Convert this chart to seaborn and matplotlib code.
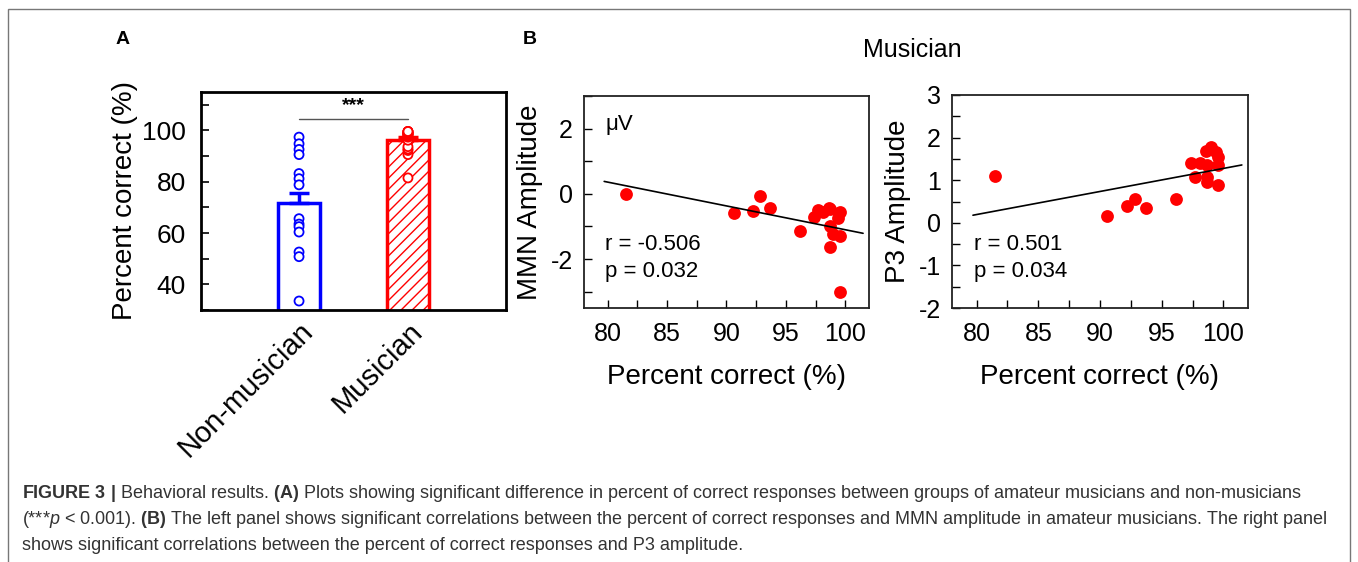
import numpy as np
import pandas as pd
import seaborn as sns
import matplotlib.pyplot as plt
from matplotlib import font_manager
from matplotlib.ticker import MultipleLocator, FixedLocator
from matplotlib.patches import Rectangle
from matplotlib.collections import PathCollection

# Panel A: percent correct per subject
groups = ['Non-musician', 'Musician']
group_colors = ['#0000ff', '#ff0000']
nonmus_pct = [97.4, 94.8, 92.6, 90.6, 83.2, 81.2, 78.8, 65.6, 63.5, 62.5,
              60.4, 52.6, 50.8, 33.5]
mus_pct = [81.5, 90.6, 92.2, 92.8, 93.7, 96.2, 97.4, 97.7, 98.1, 98.6,
           98.7, 98.7, 98.7, 99.0, 99.4, 99.6, 99.6, 99.6]
group_mean = [71.6, 96.4]
group_se = [4.1, 0.9]

# Panel B: musicians only, same subjects as mus_pct
mmn_amp = [0.0, -0.58, -0.53, -0.06, -0.43, -1.13, -0.72, -0.50, -0.55, -0.42,
           -1.00, -1.64, -0.45, -1.23, -0.75, -0.57, -1.29, -3.00]
p3_amp = [1.10, 0.16, 0.39, 0.55, 0.34, 0.57, 1.40, 1.08, 1.40, 1.68,
          1.36, 1.08, 0.96, 1.78, 1.66, 1.55, 1.36, 0.88]

caption_lines = [
    r"$\bf{FIGURE\ 3\ |}$ Behavioral results. $\bf{(A)}$ Plots showing significant difference in percent of correct responses between groups of amateur musicians and non-musicians",
    r"(***$\it{p}$ < 0.001). $\bf{(B)}$ The left panel shows significant correlations between the percent of correct responses and MMN amplitude in amateur musicians. The right panel",
    r"shows significant correlations between the percent of correct responses and P3 amplitude.",
]

sns.set_style('ticks')
plt.rcParams['font.family'] = ['Liberation Sans', 'DejaVu Sans']
plt.rcParams['mathtext.fontset'] = 'custom'
plt.rcParams['mathtext.rm'] = 'Liberation Sans'
plt.rcParams['mathtext.bf'] = 'Liberation Sans:bold'
plt.rcParams['mathtext.it'] = 'Liberation Sans:italic'
plt.rcParams['xtick.direction'] = 'in'
plt.rcParams['ytick.direction'] = 'in'
plt.rcParams['hatch.linewidth'] = 1.0
plt.rcParams['axes.unicode_minus'] = False
for key in ['text.color', 'axes.labelcolor', 'xtick.color', 'ytick.color']:
    plt.rcParams[key] = 'black'

names = {f.name for f in font_manager.fontManager.ttflist}
cap_font = 'Liberation Sans Narrow' if 'Liberation Sans Narrow' in names else 'Liberation Sans'
cap_size = 15.5 if cap_font == 'Liberation Sans Narrow' else 13.0

W, H = 1358, 562
fig = plt.figure(figsize=(W / 100, H / 100), dpi=100)

def px_axes(left, top, right, bottom):
    return fig.add_axes([left / W, 1 - bottom / H, (right - left) / W, (bottom - top) / H])

# ---------------- Panel A ----------------
axA = px_axes(201, 92, 506, 310)
df_mean = pd.DataFrame({'group': groups, 'mean': group_mean})
df_a = pd.DataFrame({'group': ['Non-musician'] * len(nonmus_pct) + ['Musician'] * len(mus_pct),
                     'pct': nonmus_pct + mus_pct})

sns.barplot(data=df_mean, x='group', y='mean', hue='group', order=groups, hue_order=groups,
            palette=group_colors, fill=False, width=0.385, linewidth=2.5, ax=axA, legend=False)
for p in axA.patches:
    idx = int(round(p.get_x() + p.get_width() / 2))
    p.set_facecolor('white')
    if groups[idx] == 'Musician':
        p.set_hatch('///')
    p.set_edgecolor(group_colors[idx])

sns.stripplot(data=df_a, x='group', y='pct', hue='group', order=groups, hue_order=groups,
              palette=group_colors, jitter=False, size=6.5, ax=axA, legend=False, zorder=3)
for coll in axA.collections:
    if isinstance(coll, PathCollection):
        fc = coll.get_facecolor()
        coll.set_edgecolor(fc)
        coll.set_facecolor('white')
        coll.set_linewidth(1.3)

for i in range(len(groups)):
    axA.errorbar(i, group_mean[i], yerr=[[0], [group_se[i]]], fmt='none',
                 ecolor=group_colors[i], elinewidth=2.5, capsize=7, capthick=2.5, zorder=2)

axA.plot([0, 1], [104.6, 104.6], color='#555555', lw=1)
axA.text(0.5, 106.3, '***', ha='center', va='bottom', fontsize=14, fontweight='bold')

axA.set_xlim(-0.9, 1.9)
axA.set_ylim(30, 115)
axA.yaxis.set_major_locator(FixedLocator([40, 60, 80, 100]))
axA.yaxis.set_minor_locator(MultipleLocator(10))
axA.tick_params(axis='y', which='both', labelsize=19, length=6, width=1.2, pad=11)
axA.tick_params(axis='x', length=0, labelsize=21, pad=5)
plt.setp(axA.get_xticklabels(), rotation=45, ha='right', va='top', rotation_mode='anchor')
axA.set_xlabel('')
axA.set_ylabel('Percent correct (%)', fontsize=20)
axA.yaxis.set_label_coords(-0.205, 0.5)
for s in axA.spines.values():
    s.set_visible(True)
    s.set_linewidth(2)
    s.set_color('black')

# ---------------- Panel B ----------------
def corr_panel(ax, y, ylabel, ylim, stats, label_x):
    ax.set_xlim(79.7, 101.5)
    sns.regplot(x=np.array(mus_pct), y=np.array(y), ci=None, truncate=False, ax=ax,
                scatter_kws=dict(s=85, color='#ff0000', linewidths=0, zorder=2, alpha=1),
                line_kws=dict(color='black', lw=1.2, zorder=4))
    ax.set_xlim(78, 102)
    ax.set_ylim(*ylim)
    ax.xaxis.set_major_locator(MultipleLocator(5))
    ax.xaxis.set_minor_locator(MultipleLocator(2.5))
    ax.tick_params(which='both', labelsize=18, length=6, width=1)
    ax.tick_params(axis='x', pad=10)
    ax.tick_params(axis='y', pad=8)
    ax.set_xlabel('Percent correct (%)', fontsize=20)
    ax.set_ylabel(ylabel, fontsize=20)
    ax.xaxis.set_label_coords(0.5, -0.265)
    ax.yaxis.set_label_coords(label_x, 0.5)
    for i, s in enumerate(stats):
        ax.text(0.075, 0.30 - 0.13 * i, s, transform=ax.transAxes, fontsize=16, va='center')
    for s in ax.spines.values():
        s.set_visible(True)
        s.set_linewidth(1.3)
        s.set_color('#222222')

axB1 = px_axes(584, 96, 869, 308)
corr_panel(axB1, mmn_amp, 'MMN Amplitude', (-3.5, 3), ['r = -0.506', 'p = 0.032'], -0.145)
axB1.yaxis.set_major_locator(FixedLocator([-2, 0, 2]))
axB1.yaxis.set_minor_locator(MultipleLocator(1))
axB1.text(0.075, 0.865, 'μV', transform=axB1.transAxes, fontsize=16, va='center')

axB2 = px_axes(952, 95, 1248, 308)
corr_panel(axB2, p3_amp, 'P3 Amplitude', (-2, 3), ['r = 0.501', 'p = 0.034'], -0.14)
axB2.yaxis.set_major_locator(MultipleLocator(1))
axB2.yaxis.set_minor_locator(MultipleLocator(0.5))

# ---------------- figure text ----------------
fig.text(123 / W, 1 - 40 / H, 'A', fontsize=14, fontweight='bold', va='center', ha='center')
fig.text(530 / W, 1 - 40 / H, 'B', fontsize=14, fontweight='bold', va='center', ha='center')
fig.text(912 / W, 1 - 50 / H, 'Musician', fontsize=18, va='center', ha='center')

for i, line in enumerate(caption_lines):
    fig.text(22 / W, 1 - (494 + 25.5 * i) / H, line, fontsize=cap_size, family=cap_font,
             color='#333333', va='center', ha='left')

fig.add_artist(Rectangle((8 / W, -0.05), (1350 - 8) / W, 1 - 9 / H + 0.05,
                         transform=fig.transFigure, fill=False, ec='#777777', lw=1))

fig.savefig('out.png', dpi=100)
